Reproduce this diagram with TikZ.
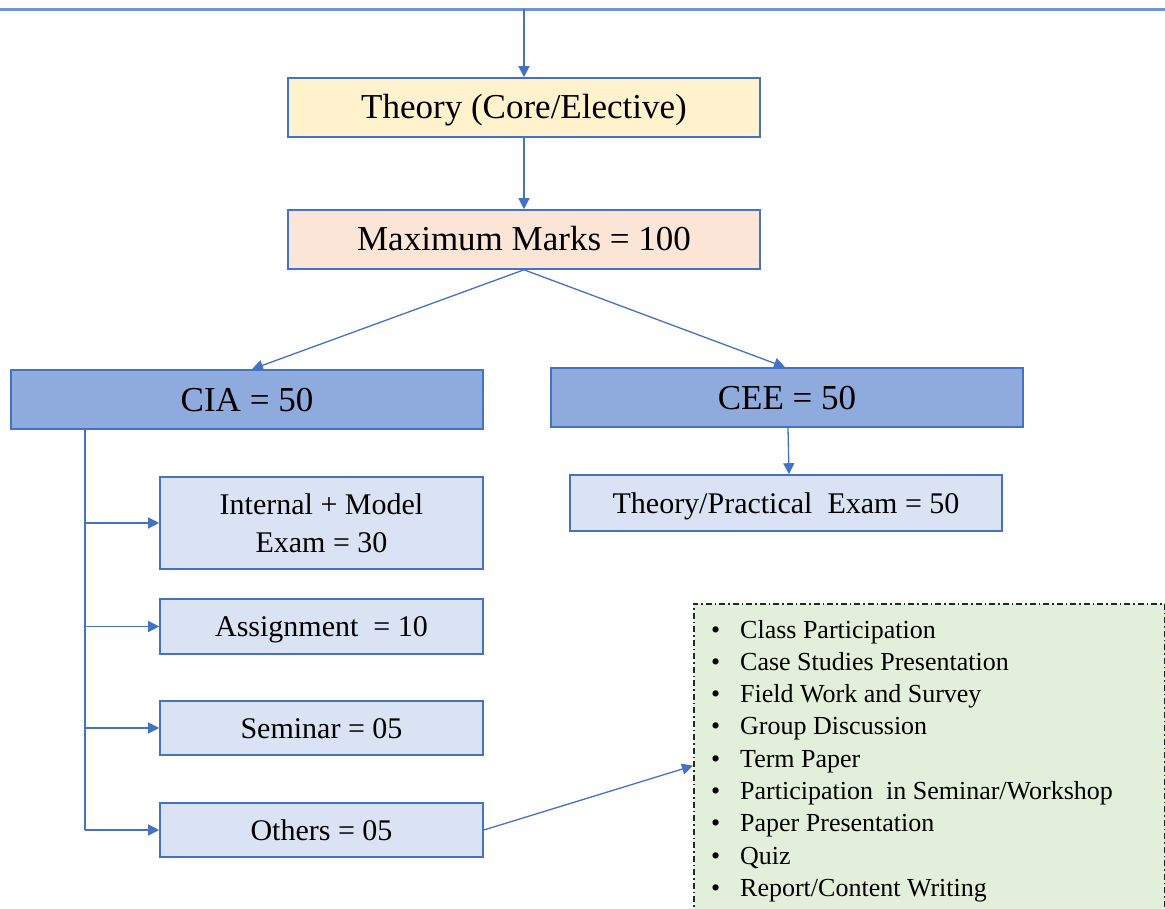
\documentclass[tikz,border=0pt]{standalone}
\usepackage{fontspec}
\setmainfont{Liberation Serif}
\usetikzlibrary{arrows.meta,calc}
\definecolor{bord}{HTML}{4472C4}
\definecolor{topline}{HTML}{6E93D6}
\definecolor{fyellow}{HTML}{FFF2CC}
\definecolor{fpeach}{HTML}{FBE5D6}
\definecolor{fmid}{HTML}{8FAADC}
\definecolor{flight}{HTML}{DAE3F3}
\definecolor{fgreen}{HTML}{E2EFDA}
\tikzset{
  box/.style={draw=bord, line width=1.6pt, inner sep=0pt, align=center},
  bigbox/.style={box, text height=23pt, text depth=0pt, minimum width=472pt, minimum height=59pt, font=\fontsize{35}{40}\selectfont},
  subbox/.style={box, fill=flight, font=\fontsize{30}{38}\selectfont},
  oneline/.style={text height=20pt, text depth=0pt},
  conn/.style={draw=bord, line width=1.3pt},
  arr/.style={conn, -{Triangle[length=11pt,width=11pt]}},
  listitem/.style={anchor=base west, inner sep=0pt, font=\fontsize{26}{30}\selectfont},
}
\begin{document}
\begin{tikzpicture}[x=1pt,y=-1pt]
\useasboundingbox (0,0) rectangle (1165,909);
\fill[white] (0,0) rectangle (1165,909);
% top line
\coordinate (tl) at (0,9.5);
\coordinate (tr) at (1165,9.5);
\coordinate (tm) at (524,9.5);
\draw[topline, line width=3pt] (tl) -- (tr);
% boxes
\node[bigbox, fill=fyellow] (theory) at (524,107.5) {Theory (Core/Elective)};
\node[bigbox, fill=fpeach] (max) at (524,239.5) {Maximum Marks = 100};
\node[bigbox, fill=fmid] (cia) at (247,399.5) {CIA = 50};
\node[bigbox, fill=fmid] (cee) at (787,397.5) {CEE = 50};
\node[subbox, oneline, minimum width=432pt, minimum height=56pt] (tp) at (786,503) {Theory/Practical\ \ Exam = 50};
\node[subbox, minimum width=323pt, minimum height=92pt] (internal) at (321.5,523) {Internal + Model\\Exam = 30};
\node[subbox, oneline, minimum width=323pt, minimum height=55pt] (assign) at (321.5,626.5) {Assignment\ \ = 10};
\node[subbox, oneline, minimum width=323pt, minimum height=54pt] (seminar) at (321.5,728) {Seminar = 05};
\node[subbox, oneline, minimum width=323pt, minimum height=54pt] (others) at (321.5,830) {Others = 05};
% list box
\node[draw=black!85, dash pattern=on 6pt off 3pt on 1.5pt off 3pt, line width=1.5pt, fill=fgreen, inner sep=0pt,
      minimum width=471pt, minimum height=318pt, anchor=north west] (list) at (693,603) {};
\foreach \t [count=\i] in {Class Participation, Case Studies Presentation, Field Work and Survey, Group Discussion, Term Paper, Participation\ \ in Seminar/Workshop, Paper Presentation, Quiz, Report/Content Writing}{
  \node[listitem] (li\i) at (711,{638+32.3*(\i-1)}) {\makebox[29pt][l]{\textbullet}\t};
}
% connectors
\draw[arr] (tm) -- (theory.north);
\draw[arr] (theory.south) -- (max.north);
\draw[arr] (max.south) -- ($(cia.north)+(5,0)$);
\draw[arr] (max.south) -- ($(cee.north)-(2,0)$);
\draw[arr] ($(cee.south)+(1,0)$) -- ($(tp.north)+(3,0)$);
\coordinate (ciab) at (85,429);
\draw[conn] (ciab) -- (ciab |- others.west);
\draw[arr] (ciab |- internal.west) -- (internal.west);
\draw[arr] (ciab |- assign.west) -- (assign.west);
\draw[arr] (ciab |- seminar.west) -- (seminar.west);
\draw[arr] (ciab |- others.west) -- (others.west);
\draw[arr] (others.east) -- ($(list.west)+(0,3)$);
\end{tikzpicture}
\end{document}
